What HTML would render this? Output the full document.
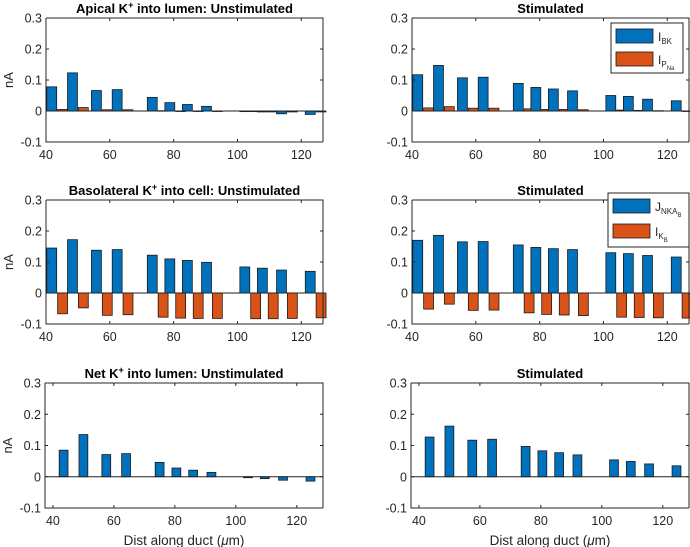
<!DOCTYPE html>
<html><head><meta charset="utf-8"><style>
body{margin:0;background:#fff;}
svg{display:block;font-family:"Liberation Sans",sans-serif;}
</style></head><body>
<svg id="fig" width="690" height="547" viewBox="0 0 690 547"></svg>
<script>
const groups=[43.5,50,57.5,64,75,80.5,86,92,104,109.5,115.5,124.5];
const apUnstimBK=[0.078,0.123,0.066,0.069,0.044,0.027,0.021,0.015,-0.002,-0.003,-0.009,-0.011];
const apUnstimPNa=[0.005,0.011,0.004,0.004,0.001,0,0,0,-0.002,-0.003,-0.003,-0.003];
const apStimBK=[0.117,0.147,0.107,0.109,0.089,0.076,0.071,0.065,0.05,0.047,0.038,0.033];
const apStimPNa=[0.01,0.014,0.009,0.009,0.007,0.005,0.005,0.004,0.003,0.002,0.001,0.0];
const baUnstimNKA=[0.145,0.172,0.138,0.14,0.122,0.11,0.105,0.099,0.084,0.08,0.074,0.07];
const baUnstimK=[-0.067,-0.048,-0.072,-0.07,-0.078,-0.081,-0.082,-0.082,-0.083,-0.083,-0.082,-0.08];
const baStimNKA=[0.17,0.186,0.165,0.166,0.155,0.147,0.143,0.14,0.13,0.127,0.121,0.116];
const baStimK=[-0.052,-0.036,-0.056,-0.055,-0.064,-0.069,-0.071,-0.073,-0.078,-0.079,-0.08,-0.081];
const netUnstim=[0.085,0.135,0.071,0.074,0.046,0.028,0.021,0.014,-0.003,-0.006,-0.011,-0.014];
const netStim=[0.127,0.162,0.117,0.12,0.097,0.083,0.077,0.07,0.054,0.049,0.041,0.035];
const yTicks=[-0.1,0,0.1,0.2,0.3];
const yTickLabels=["-0.1","0","0.1","0.2","0.3"];
const xTicks=[40,60,80,100,120];

const NS="http://www.w3.org/2000/svg";
const svg=document.getElementById('fig');
function mk(tag,attrs,parent){const e=document.createElementNS(NS,tag);for(const k in attrs)e.setAttribute(k,attrs[k]);(parent||svg).appendChild(e);return e;}

function panel(name,L,R,T,B,xmin,xmax,title,s1,s2,ylabel,xlabel){
  const g=mk('g',{});
  
  
  const xs=v=>L+(v-xmin)/(xmax-xmin)*(R-L);
  const ys=v=>B-(v+0.1)/0.4*(B-T);
  mk('rect',{x:L,y:T,width:R-L,height:B-T,fill:'#fff'},g);
  const bw=s2?3.1:2.9;
  const off=s2?1.7:0;
  groups.forEach((c,i)=>{
    const v=s1[i];
    const r=mk('rect',{x:xs(c-off-bw/2),y:Math.min(ys(v),ys(0)),width:xs(c-off+bw/2)-xs(c-off-bw/2),height:Math.max(0.5,Math.abs(ys(v)-ys(0))),fill:'#0072BD',stroke:'#1a1a1a','stroke-width':0.8},g);
    
    
    if(s2){
      const w=s2[i];
      const r2=mk('rect',{x:xs(c+off-bw/2),y:Math.min(ys(w),ys(0)),width:xs(c+off+bw/2)-xs(c+off-bw/2),height:Math.max(0.5,Math.abs(ys(w)-ys(0))),fill:'#D95319',stroke:'#1a1a1a','stroke-width':0.8},g);
      
      
    }
  });
  mk('line',{x1:L,x2:R,y1:ys(0),y2:ys(0),stroke:'#222','stroke-width':1},g);
  mk('polyline',{points:`${L},${T} ${L},${B} ${R},${B}`,fill:'none',stroke:'#262626','stroke-width':1},g);
  mk('polyline',{points:`${L},${T} ${R},${T} ${R},${B}`,fill:'none',stroke:'#262626','stroke-width':1},g);
  yTicks.forEach((t,i)=>{
    const y=ys(t);
    mk('line',{x1:L,x2:L+3,y1:y,y2:y,stroke:'#262626'},g);
    mk('line',{x1:R,x2:R-3,y1:y,y2:y,stroke:'#262626'},g);
    const tx=mk('text',{x:L-4,y:y+4.5,'text-anchor':'end','font-size':12.5,fill:'#262626'},g);
    tx.textContent=yTickLabels[i];
  });
  xTicks.forEach(t=>{
    const x=xs(t);
    mk('line',{x1:x,x2:x,y1:B,y2:B-3,stroke:'#262626'},g);
    mk('line',{x1:x,x2:x,y1:T,y2:T+3,stroke:'#262626'},g);
    const tx=mk('text',{x:x,y:B+17,'text-anchor':'middle','font-size':12.5,fill:'#262626'},g);
    tx.textContent=String(t);
  });
  const tt=mk('text',{x:(L+R)/2,y:T-5,'text-anchor':'middle','font-size':13,'font-weight':'bold',fill:'#000'},g);
  
  
  tt.innerHTML=title;
  if(ylabel){
    const yl=mk('text',{x:0,y:0,transform:`translate(${L-33},${(T+B)/2}) rotate(-90)`,'text-anchor':'middle','font-size':13,fill:'#262626'},g);
    
    
    yl.textContent='nA';
  }
  if(xlabel){
    const xl=mk('text',{x:(L+R)/2,y:B+37,'text-anchor':'middle','font-size':13.5,fill:'#262626'},g);
    
    
    xl.innerHTML='Dist along duct (<tspan font-style="italic">μ</tspan>m)';
  }
}
const sup='K<tspan font-size="9" dy="-5">+</tspan><tspan dy="5"> </tspan>';
panel('apical-unstimulated',46,323,18,142,40,126.8,'Apical '+sup+'into lumen: Unstimulated',apUnstimBK,apUnstimPNa,true,false);
panel('apical-stimulated',412,689,18,142,40,126.8,'Stimulated',apStimBK,apStimPNa,false,false);
panel('basolateral-unstimulated',46,323,200,324,40,126.8,'Basolateral '+sup+'into cell: Unstimulated',baUnstimNKA,baUnstimK,true,false);
panel('basolateral-stimulated',412,689,200,324,40,126.8,'Stimulated',baStimNKA,baStimK,false,false);
panel('net-unstimulated',45,323,383,508,37.4,128.6,'Net '+sup+'into lumen: Unstimulated',netUnstim,null,true,true);
panel('net-stimulated',411,689,383,508,37.4,128.6,'Stimulated',netStim,null,false,true);

function legend(name,x,y,w,h,labels){
  const g=mk('g',{});
  
  
  mk('rect',{x:x,y:y,width:w,height:h,fill:'#fff',stroke:'#262626','stroke-width':1},g);
  mk('rect',{x:x+5,y:y+6,width:37,height:14,fill:'#0072BD',stroke:'#1a1a1a','stroke-width':0.8},g);
  mk('rect',{x:x+5,y:y+h/2+4,width:37,height:14,fill:'#D95319',stroke:'#1a1a1a','stroke-width':0.8},g);
  const t1=mk('text',{x:x+47,y:y+18,'font-size':12,fill:'#262626'},g);t1.innerHTML=labels[0];
  const t2=mk('text',{x:x+47,y:y+h/2+16,'font-size':12,fill:'#262626'},g);t2.innerHTML=labels[1];
}
legend('legend-apical',611,23,72,50,['I<tspan font-size="8" dy="3">BK</tspan>','I<tspan font-size="8" dy="3">P</tspan><tspan font-size="6" dy="3">Na</tspan>']);
legend('legend-basolateral',608,193,81,54,['J<tspan font-size="8" dy="3">NKA</tspan><tspan font-size="6" dy="3">B</tspan>','I<tspan font-size="8" dy="3">K</tspan><tspan font-size="6" dy="3">B</tspan>']);
</script>
</body></html>
